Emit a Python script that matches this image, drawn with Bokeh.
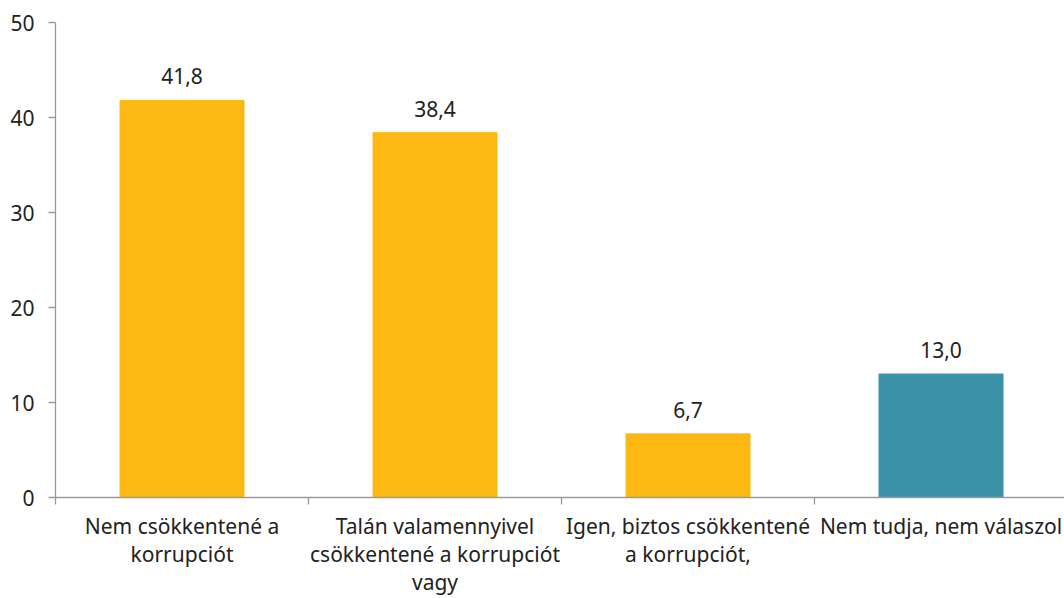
from bokeh.plotting import figure
from bokeh.models import ColumnDataSource, FixedTicker, Range1d, LabelSet
from bokeh.core.properties import value
from bokeh.embed import file_html
from bokeh.resources import INLINE

categories = [
    "Nem csökkentené a\nkorrupciót",
    "Talán valamennyivel\ncsökkentené a korrupciót\nvagy",
    "Igen, biztos csökkentené\na korrupciót,",
    "Nem tudja, nem válaszol",
]
values = [41.8, 38.4, 6.7, 13.0]
value_labels = ["41,8", "38,4", "6,7", "13,0"]
colors = ["#FDB813", "#FDB813", "#FDB813", "#3A91A8"]
y_ticks = [0, 10, 20, 30, 40, 50]

FONT = "Noto Sans"
FS = "21px"
TXT = "#222222"
AX = "#9a9a9a"

x = [i + 0.5 for i in range(len(categories))]
src = ColumnDataSource(dict(x=x, top=values, color=colors, label=value_labels))

p = figure(width=1064, height=598, x_range=Range1d(0, 3.988), y_range=Range1d(0, 50),
           output_backend="svg", toolbar_location=None,
           min_border_left=55, min_border_right=0, min_border_top=22, min_border_bottom=101)

p.vbar(x="x", top="top", width=0.49, color="color", source=src)

lbl = LabelSet(x="x", y="top", text="label", source=src, y_offset=16,
               text_align="center", text_baseline="alphabetic",
               text_font=value(FONT), text_font_size=value(FS), text_color=TXT)
p.add_layout(lbl)

p.xgrid.visible = False
p.ygrid.visible = False
p.outline_line_color = None

p.yaxis.ticker = FixedTicker(ticks=y_ticks)
p.yaxis.axis_line_color = AX
p.yaxis.axis_line_width = 1.3
p.yaxis.major_tick_line_color = AX
p.yaxis.major_tick_line_width = 1.3
p.yaxis.major_tick_in = 0
p.yaxis.major_tick_out = 7
p.yaxis.minor_tick_line_color = None
p.yaxis.major_label_standoff = 14
p.yaxis.major_label_text_font = FONT
p.yaxis.major_label_text_font_size = FS
p.yaxis.major_label_text_color = TXT

p.xaxis.ticker = FixedTicker(ticks=x, minor_ticks=list(range(len(categories) + 1)))
p.xaxis.major_label_overrides = {xi: c for xi, c in zip(x, categories)}
p.xaxis.axis_line_color = AX
p.xaxis.axis_line_width = 1.3
p.xaxis.major_tick_line_color = None
p.xaxis.major_tick_in = 0
p.xaxis.major_tick_out = 0
p.xaxis.minor_tick_line_color = AX
p.xaxis.minor_tick_line_width = 1.3
p.xaxis.minor_tick_in = 0
p.xaxis.minor_tick_out = 7
p.xaxis.major_label_standoff = 7
p.xaxis.major_label_text_font = FONT
p.xaxis.major_label_text_font_size = FS
p.xaxis.major_label_text_color = TXT
p.xaxis.major_label_text_line_height = 1.0

open("out.html", "w").write(file_html(p, INLINE))
